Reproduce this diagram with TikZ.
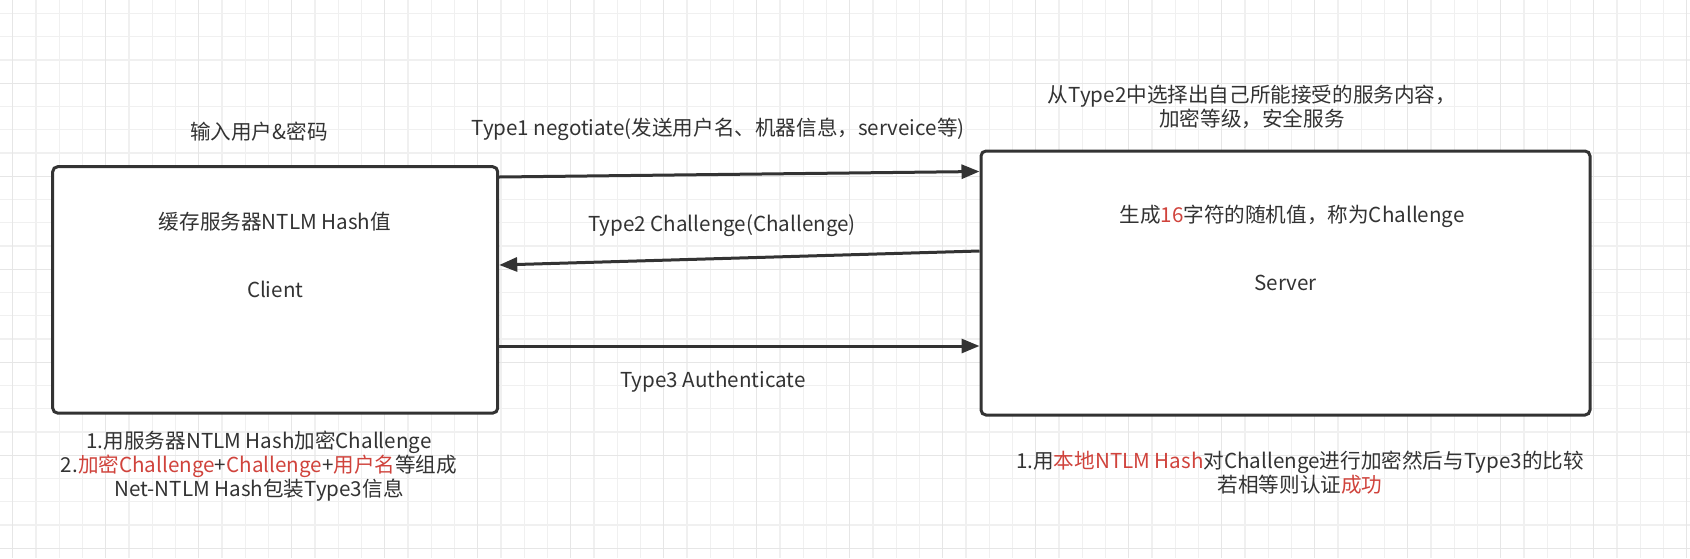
\documentclass[tikz,border=0pt]{standalone}
\usepackage{fontspec}
\setmainfont{Noto Sans CJK SC}
\usetikzlibrary{arrows.meta}
\definecolor{ink}{HTML}{333333}
\definecolor{hot}{HTML}{D0433C}
\definecolor{minorline}{HTML}{F0F0F0}
\definecolor{majorline}{HTML}{E6E6E6}
\newcommand{\hot}[1]{\textcolor{hot}{#1}}

\begin{document}
\begin{tikzpicture}[x=0.5pt,y=-0.5pt,
	every node/.style={text=ink,font=\fontsize{10.3pt}{12pt}\selectfont},
	party/.style={draw=ink,fill=white,line width=1.5pt,rounded corners=2.5pt},
	msg/.style={draw=ink,line width=1.5pt,-{Triangle[length=9pt,width=7pt]}},
	minorgrid/.style={draw=minorline,line width=0.6pt},
	majorgrid/.style={draw=majorline,line width=0.7pt}]
	\useasboundingbox (0,0) rectangle (1690,558);
	\fill[white] (0,0) rectangle (1690,558);
	% background grid
	\begin{scope}[shift={(12.7,13.55)}]
		\draw[minorgrid,step=11.625pt] (-12.7,-13.55) grid (1677.3,544.45);
	\end{scope}
	\begin{scope}[shift={(12.7,83.3)}]
		\draw[majorgrid,step=46.5pt] (-12.7,-83.3) grid (1677.3,474.7);
	\end{scope}
	
	\node[party,minimum width=222.5pt,minimum height=123.2pt] (client) at (275.2,289.9) {Client};
	\node[party,minimum width=304.5pt,minimum height=132pt] (server) at (1285.5,283) {Server};
	
	\draw[msg] (client.east |- 0,177) -- (server.west |- 0,171.5);
	\draw[msg] (server.west |- 0,251) -- (client.east |- 0,265);
	\draw[msg] (client.east |- 0,346) -- (server.west |- 0,346);
	
	\node (login) at (259,132) {输入用户\&密码};
	\node (cache) at (275,222) {缓存服务器NTLM Hash值};
	\node (type1) at (718,129) {Type1 negotiate(发送用户名、机器信息，serveice等)};
	\node (type2) at (722,226) {Type2 Challenge(Challenge)};
	\node (type3) at (713,382) {Type3 Authenticate};
	\node[align=center] (pick) at (1252,107) {从Type2中选择出自己所能接受的服务内容，\\加密等级，安全服务};
	\node (gen) at (1292,216) {生成\hot{16}字符的随机值，称为Challenge};
	\node[align=center] (cwork) at (259,466) {1.用服务器NTLM Hash加密Challenge\\2.\hot{加密Challenge}+\hot{Challenge}+\hot{用户名}等组成\\Net-NTLM Hash包装Type3信息};
	\node[align=center] (swork) at (1300,472.5) {1.用\hot{本地NTLM Hash}对Challenge进行加密然后与Type3的比较\\若相等则认证\hot{成功}};
\end{tikzpicture}
\end{document}
